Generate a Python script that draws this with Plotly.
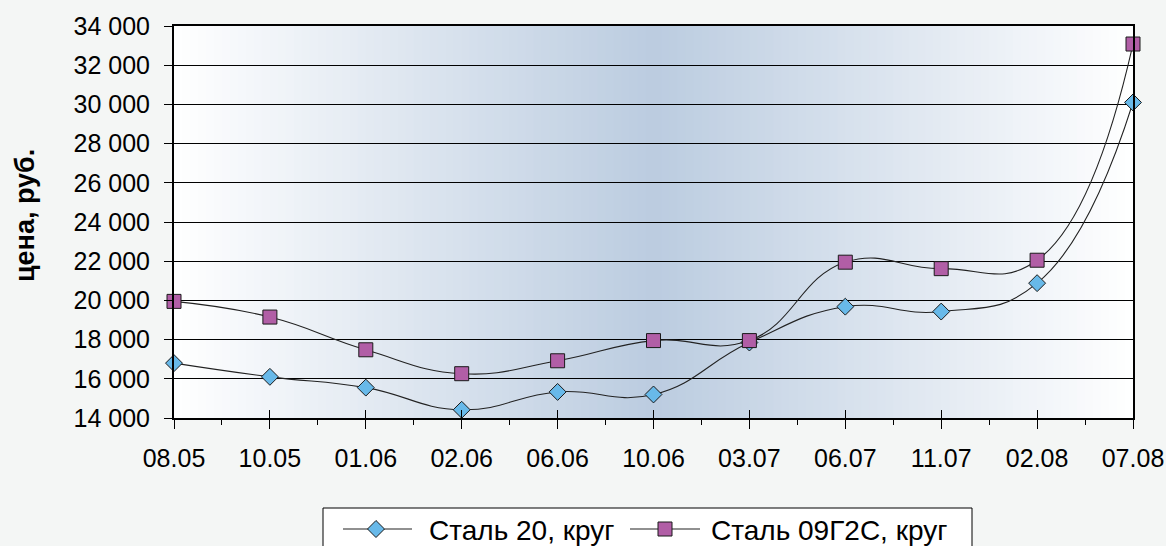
import plotly.graph_objects as go

categories = ["08.05", "10.05", "01.06", "02.06", "06.06", "10.06", "03.07", "06.07", "11.07", "02.08", "07.08"]
steel20 = [16800, 16100, 15550, 14420, 15330, 15200, 17850, 19680, 19430, 20880, 30100]
steel09g2s = [19950, 19150, 17480, 16260, 16920, 17950, 17950, 21950, 21620, 22050, 33080]
y_ticks = [14000, 16000, 18000, 20000, 22000, 24000, 26000, 28000, 30000, 32000, 34000]
y_ticktext = ["14 000", "16 000", "18 000", "20 000", "22 000", "24 000", "26 000", "28 000", "30 000", "32 000", "34 000"]
series_names = ["Сталь 20, круг", "Сталь 09Г2С, круг"]
y_title = "цена, руб."

xs = list(range(len(categories)))
FONT = "Liberation Sans, Arial, sans-serif"
C_DIAMOND = "#68b9e9"
C_SQUARE = "#b15ea6"
C_EDGE = "#1a1a1a"
C_LINE = "#222222"
SMOOTH = 1.3

# plot-area geometry (pixels) used to place layout decorations
L, R, T, B = 174, 1133, 26, 418
W, H = R - L, B - T


def px(x):
    return (x - L) / W


def py(y):
    return (B - y) / H


fig = go.Figure()
fig.add_trace(go.Scatter(
    x=xs, y=steel20, name=series_names[0], mode="lines+markers",
    line=dict(color=C_LINE, width=1.1, shape="spline", smoothing=SMOOTH),
    marker=dict(symbol="diamond", size=13, color=C_DIAMOND, line=dict(color=C_EDGE, width=1)),
    cliponaxis=False, showlegend=False,
))
fig.add_trace(go.Scatter(
    x=xs, y=steel09g2s, name=series_names[1], mode="lines+markers",
    line=dict(color=C_LINE, width=1.1, shape="spline", smoothing=SMOOTH),
    marker=dict(symbol="square", size=14, color=C_SQUARE, line=dict(color=C_EDGE, width=1)),
    cliponaxis=False, showlegend=False,
))
# helper trace for the inside major ticks axis
fig.add_trace(go.Scatter(x=[0, 10], y=[14000, 14000], xaxis="x2", mode="lines",
                         line=dict(width=0), showlegend=False, hoverinfo="skip"))

# horizontal gradient background of plot area
N = 120
c0 = (255, 255, 255)
c1 = (187, 204, 224)
shapes = []
for i in range(N):
    t0 = i / N
    tm = (i + 0.5) / N
    f = 1 - abs(tm - 0.5) / 0.5
    col = tuple(round(c0[k] + (c1[k] - c0[k]) * f) for k in range(3))
    shapes.append(dict(type="rect", xref="paper", yref="paper", x0=t0, x1=t0 + 1 / N + 0.002,
                       y0=0, y1=1, fillcolor="rgb(%d,%d,%d)" % col, line=dict(width=0), layer="below"))

# custom legend (box, sample lines, symbols, labels)
LEG_Y = 529
shapes.append(dict(type="rect", xref="paper", yref="paper", x0=px(323), x1=px(972),
                   y0=py(560), y1=py(508), fillcolor="#ffffff",
                   line=dict(color="#000000", width=1), layer="above"))
for x0, x1 in [(343, 412), (630, 700)]:
    shapes.append(dict(type="line", xref="paper", yref="paper", x0=px(x0), x1=px(x1),
                       y0=py(LEG_Y), y1=py(LEG_Y), line=dict(color=C_LINE, width=1.1), layer="above"))
dcx, dh = 376, 8.5
shapes.append(dict(type="path", xref="paper", yref="paper", layer="above",
                   path="M %f,%f L %f,%f L %f,%f L %f,%f Z" % (
                       px(dcx - dh), py(LEG_Y), px(dcx), py(LEG_Y - dh),
                       px(dcx + dh), py(LEG_Y), px(dcx), py(LEG_Y + dh)),
                   fillcolor=C_DIAMOND, line=dict(color=C_EDGE, width=1)))
scx, sh = 665, 7
shapes.append(dict(type="rect", xref="paper", yref="paper", layer="above",
                   x0=px(scx - sh), x1=px(scx + sh), y0=py(LEG_Y + sh), y1=py(LEG_Y - sh),
                   fillcolor=C_SQUARE, line=dict(color=C_EDGE, width=1)))

annotations = [
    dict(text="<b>" + y_title + "</b>", xref="paper", yref="paper",
         x=px(25), y=py(216), xanchor="center", yanchor="middle",
         textangle=-90, showarrow=False, font=dict(size=27, family=FONT)),
    dict(text=series_names[0], xref="paper", yref="paper", x=px(427), y=py(LEG_Y + 1),
         xanchor="left", yanchor="middle", showarrow=False, font=dict(size=28, family=FONT)),
    dict(text=series_names[1], xref="paper", yref="paper", x=px(709), y=py(LEG_Y + 1),
         xanchor="left", yanchor="middle", showarrow=False, font=dict(size=28, family=FONT)),
]

fig.update_layout(
    width=1166, height=546,
    margin=dict(l=L, r=1166 - R, t=T, b=546 - B, autoexpand=False),
    paper_bgcolor="#f4f6f5",
    plot_bgcolor="#ffffff",
    font=dict(family=FONT, color="#000000"),
    shapes=shapes,
    annotations=annotations,
    showlegend=False,
    xaxis=dict(range=[0, 10], tickvals=xs, ticktext=categories, showgrid=False, zeroline=False,
               showline=True, linecolor="#000000", linewidth=2, mirror=True, automargin=False,
               ticks="outside", ticklen=9, tickcolor="#000000", tickwidth=1,
               ticklabelstandoff=8,
               tickfont=dict(size=25, family=FONT),
               minor=dict(tickvals=[i + 0.5 for i in xs[:-1]], ticks="outside", ticklen=5,
                          tickcolor="#000000", tickwidth=1, showgrid=False)),
    xaxis2=dict(range=[0, 10], overlaying="x", anchor="y", side="bottom", tickvals=xs,
                showticklabels=False, showgrid=False, zeroline=False, showline=False,
                ticks="inside", ticklen=8, tickcolor="#000000", tickwidth=1, automargin=False),
    yaxis=dict(range=[14000, 34000], tickvals=y_ticks, ticktext=y_ticktext,
               showgrid=True, gridcolor="#000000", gridwidth=1, zeroline=False,
               showline=True, linecolor="#000000", linewidth=2, mirror=True, automargin=False,
               ticks="outside", ticklen=8, tickcolor="#000000", tickwidth=1,
               ticklabelstandoff=9,
               tickfont=dict(size=25, family=FONT)),
)

fig.write_html("out.html", config={"displayModeBar": False},
               post_script="document.body.style.margin='0px';document.body.style.overflow='hidden';")
